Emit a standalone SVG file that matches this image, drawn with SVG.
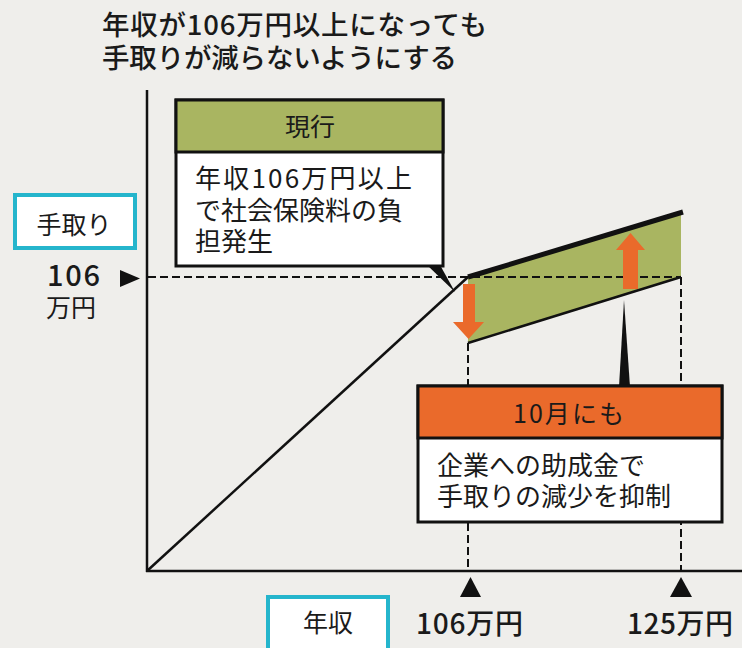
<svg xmlns="http://www.w3.org/2000/svg" width="742" height="648" viewBox="0 0 742 648">
<style>
text{font-family:"Noto Sans CJK JP","Noto Sans",sans-serif;fill:#1a1a1a}
.title{font-size:27.5px;font-weight:500}
.body{font-size:26px}
.head{font-size:25px}
.num{font-size:28px;font-weight:500}
.ax{stroke:#111;stroke-width:2.5;fill:none}
.dash{stroke:#111;stroke-width:2;stroke-dasharray:8 4;fill:none}
.box{stroke:#111;stroke-width:3}
.cyan{fill:#fff;stroke:#25b5cc;stroke-width:4}
.orange{fill:#ea6a2b}
</style>
<rect width="742" height="648" fill="#efeeeb"/>
<g id="title">
<text class="title" x="102" y="35" textLength="385" lengthAdjust="spacing">年収が106万円以上になっても</text>
<text class="title" x="102" y="68" textLength="355" lengthAdjust="spacing">手取りが減らないようにする</text>
</g>
<g id="band">
<polygon points="468,277 681,212 681,277 468,343" fill="#a9b561"/>
<line x1="468" y1="277" x2="683" y2="212" stroke="#111" stroke-width="5"/>
<line x1="468" y1="343" x2="681" y2="277" stroke="#111" stroke-width="2.5"/>
</g>
<g id="connectors">
<line class="dash" x1="148" y1="277" x2="681" y2="277"/>
<line class="dash" x1="468" y1="343" x2="468" y2="570"/>
<line class="dash" x1="681" y1="277" x2="681" y2="570"/>
<line class="ax" x1="147" y1="571" x2="468" y2="277"/>
<line class="ax" x1="147" y1="90" x2="147" y2="572"/>
<line class="ax" x1="146" y1="571" x2="742" y2="571"/>
<polygon points="120,270 120,287 140,278.5" fill="#111"/>
<polygon points="460,597 481,597 470.5,577" fill="#111"/>
<polygon points="670,597 692,597 681,577" fill="#111"/>
<polygon points="427,265 440,265 455,292" fill="#111"/>
<polygon points="619,387 630,387 624,300" fill="#111"/>
<path class="orange" d="M463,284 H475 V322 H484 L468.5,339 L453,322 H463 Z"/>
<path class="orange" d="M623,289 H638 V250 H645 L630.5,233 L616,250 H623 Z"/>
</g>
<g id="node-current">
<rect class="box" x="176" y="100" width="267" height="166" fill="#fff"/>
<rect class="box" x="176" y="100" width="267" height="52" fill="#a9b561"/>
<text class="head" x="310" y="136" text-anchor="middle">現行</text>
<text class="body" x="195" y="188" textLength="217" lengthAdjust="spacing">年収106万円以上</text>
<text class="body" x="195" y="220">で社会保険料の負</text>
<text class="body" x="195" y="251">担発生</text>
</g>
<g id="node-october">
<rect class="box" x="418" y="386" width="304" height="136" fill="#fff"/>
<rect class="box" x="418" y="386" width="304" height="52" fill="#ea6a2b"/>
<text class="head" x="513" y="423" textLength="111" lengthAdjust="spacing">10月にも</text>
<text class="body" x="437" y="475">企業への助成金で</text>
<text class="body" x="437" y="506">手取りの減少を抑制</text>
</g>
<g id="label-tedori">
<rect class="cyan" x="15" y="195" width="120" height="53"/>
<text class="head" x="74" y="234" text-anchor="middle">手取り</text>
</g>
<g id="label-106-y">
<text class="num" x="47" y="286" style="font-size:29px" textLength="53" lengthAdjust="spacing">106</text>
<text class="head" x="46" y="317">万円</text>
</g>
<g id="label-nenshu">
<rect class="cyan" x="268" y="597" width="120" height="60"/>
<text class="head" x="328" y="632" text-anchor="middle">年収</text>
</g>
<g id="label-106-x">
<text class="num" x="416" y="634" textLength="107" lengthAdjust="spacing">106万円</text>
</g>
<g id="label-125-x">
<text class="num" x="627" y="634" textLength="106" lengthAdjust="spacing">125万円</text>
</g>
</svg>
